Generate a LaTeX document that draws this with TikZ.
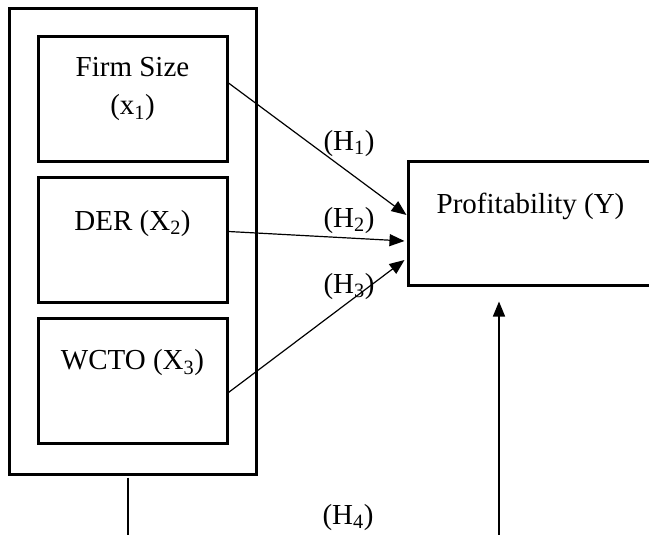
\documentclass[tikz,border=0pt]{standalone}
\usepackage{fontspec}
\setmainfont{Liberation Serif}
\usetikzlibrary{arrows.meta,positioning}

\begin{document}
\begin{tikzpicture}[
    x=1pt, y=-1pt,
    node distance=12.5pt,
    varbox/.style={rectangle, draw=black, line width=3pt, minimum width=189pt, minimum height=125pt, inner sep=0pt},
    outerbox/.style={varbox, minimum width=247pt, minimum height=465pt},
    depbox/.style={varbox, minimum width=300pt, minimum height=123pt},
    boxtext/.style={anchor=base, align=center, font=\fontsize{29}{38}\selectfont, inner sep=0pt},
    hyp/.style={anchor=base, font=\fontsize{29}{34}\selectfont, inner sep=0pt},
    arr/.style={-{Triangle[length=15pt,width=12pt]}, line width=1.2pt}
]
\clip (0,0) rectangle (649,535);
\node[outerbox] (outer) at (132.5,241.5) {};
\node[varbox] (firm) at (132.5,99.5) {};
\node[varbox, below=of firm] (der) {};
\node[varbox, below=of der] (wcto) {};
\node[depbox] (profit) at (558,223.5) {};
\node[boxtext] (firmtxt) at ([yshift=-79pt]firm.north) {Firm Size\\(x\textsubscript{1})};
\node[boxtext] (dertxt) at ([yshift=-54pt]der.north) {DER (X\textsubscript{2})};
\node[boxtext] (wctotxt) at ([yshift=-53pt]wcto.north) {WCTO (X\textsubscript{3})};
\node[boxtext, anchor=base west] (profittxt) at ([xshift=30pt,yshift=-53pt]profit.north west) {Profitability (Y)};
% hypotheses
\node[hyp] (h1) at (349,150) {(H\textsubscript{1})};
\node[hyp] (h2) at (349,227) {(H\textsubscript{2})};
\node[hyp] (h3) at (349,293) {(H\textsubscript{3})};
\node[hyp] (h4) at (348,524) {(H\textsubscript{4})};
\draw[arr] ([yshift=16.5pt]firm.east) -- ([yshift=8.5pt]profit.west);
\draw[arr] ([yshift=8.5pt]der.east) -- ([xshift=-2pt,yshift=-17.5pt]profit.west);
\draw[arr] ([yshift=-12pt]wcto.east) -- ([xshift=-2pt,yshift=-36.5pt]profit.west);
\coordinate (xbot) at (128,540);
\coordinate (ybot) at (499,540);
\draw[line width=1.4pt] ([yshift=-2pt]xbot |- outer.south) -- (xbot);
\draw[arr, line width=1.4pt] (ybot) -- ([yshift=-15pt]ybot |- profit.south);
\end{tikzpicture}
\end{document}
